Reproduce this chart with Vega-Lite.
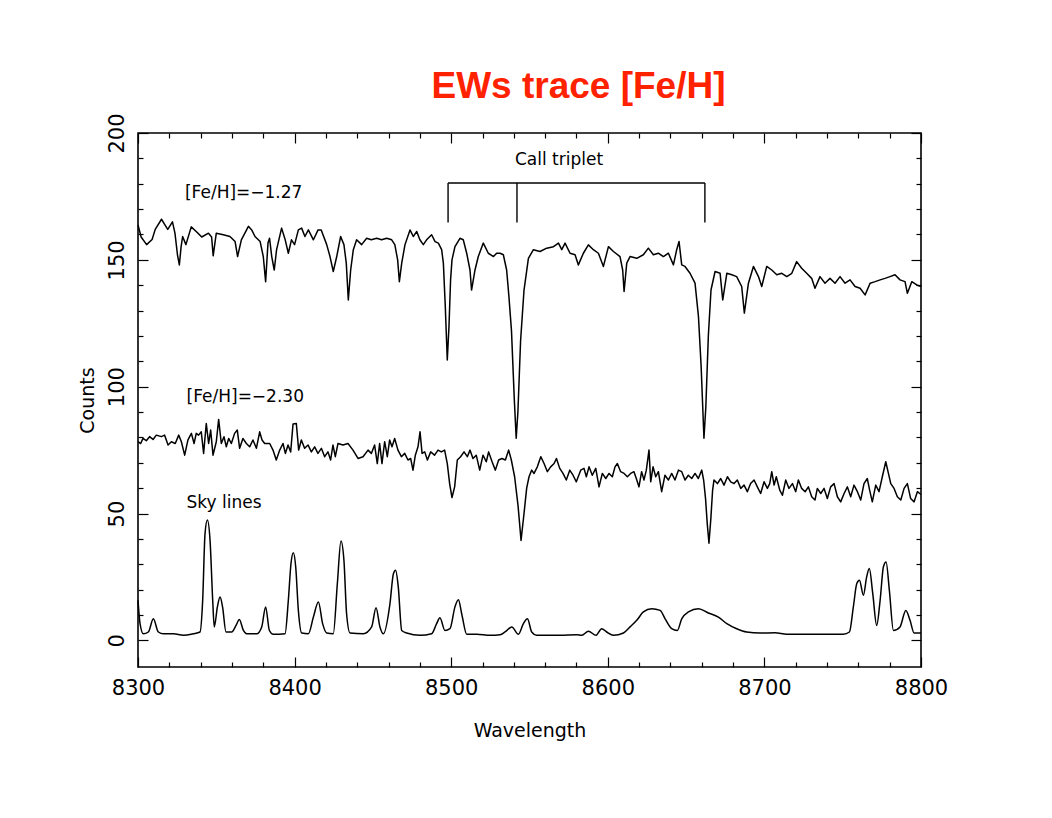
{
  "$schema": "https://vega.github.io/schema/vega-lite/v6.json",
  "width": 783,
  "height": 534,
  "autosize": {"type": "none"},
  "padding": {"left": 138, "top": 133, "right": 131, "bottom": 151},
  "background": "white",
  "title": {
    "text": "EWs trace [Fe/H]",
    "font": "Liberation Sans",
    "fontSize": 37,
    "fontWeight": "bold",
    "color": "#ff2200",
    "anchor": "middle",
    "frame": "group",
    "baseline": "alphabetic",
    "dx": 49,
    "offset": -22
  },
  "config": {
    "view": {"stroke": "black", "strokeWidth": 1.6},
    "axis": {
      "domain": false,
      "grid": false,
      "tickColor": "black",
      "tickWidth": 1.2,
      "labelColor": "black",
      "labelFont": "DejaVu Sans",
      "labelFontSize": 21,
      "labelFlush": false,
      "labelOverlap": false,
      "titleColor": "black",
      "titleFont": "DejaVu Sans",
      "titleFontSize": 19,
      "titleFontWeight": "normal"
    },
    "text": {"font": "DejaVu Sans", "fontSize": 17, "color": "black"}
  },
  "datasets": {
    "spectra": [
      {"s":"A","w":8300,"c":163.8},{"s":"A","w":8302,"c":159},{"s":"A","w":8305.5,"c":156},{"s":"A","w":8309,"c":158},{"s":"A","w":8311,"c":162},{"s":"A","w":8315,"c":166},{"s":"A","w":8317,"c":164},{"s":"A","w":8319,"c":162},{"s":"A","w":8322,"c":165},{"s":"A","w":8323.6,"c":160.5},{"s":"A","w":8325.2,"c":152},{"s":"A","w":8326.4,"c":148},{"s":"A","w":8327.5,"c":155},{"s":"A","w":8328.5,"c":159.2},{"s":"A","w":8330.6,"c":156},{"s":"A","w":8334,"c":163},{"s":"A","w":8337.5,"c":161},{"s":"A","w":8340.7,"c":159},{"s":"A","w":8345,"c":160.5},{"s":"A","w":8347,"c":159},{"s":"A","w":8348,"c":151.6},{"s":"A","w":8350,"c":160.5},{"s":"A","w":8354.5,"c":159.9},{"s":"A","w":8358.7,"c":159.2},{"s":"A","w":8362,"c":157.2},{"s":"A","w":8363.6,"c":151.3},{"s":"A","w":8366,"c":157.9},{"s":"A","w":8370.5,"c":163.2},{"s":"A","w":8372.6,"c":161.8},{"s":"A","w":8374.7,"c":159.2},{"s":"A","w":8378,"c":157.2},{"s":"A","w":8380,"c":151.3},{"s":"A","w":8381.5,"c":141.4},{"s":"A","w":8383,"c":156.6},{"s":"A","w":8384,"c":158.5},{"s":"A","w":8385.4,"c":151.3},{"s":"A","w":8387,"c":146},{"s":"A","w":8388.5,"c":154},{"s":"A","w":8391.7,"c":162.5},{"s":"A","w":8394,"c":157.9},{"s":"A","w":8396,"c":152.6},{"s":"A","w":8398,"c":157.9},{"s":"A","w":8400,"c":156},{"s":"A","w":8402.4,"c":161.8},{"s":"A","w":8404.5,"c":162.5},{"s":"A","w":8406.6,"c":159.2},{"s":"A","w":8408.8,"c":161.8},{"s":"A","w":8412,"c":157.9},{"s":"A","w":8415,"c":161.8},{"s":"A","w":8417,"c":161.8},{"s":"A","w":8420.5,"c":156},{"s":"A","w":8422.6,"c":151.3},{"s":"A","w":8424.7,"c":145.4},{"s":"A","w":8426.9,"c":151.3},{"s":"A","w":8429.4,"c":159.2},{"s":"A","w":8431.5,"c":156},{"s":"A","w":8433,"c":148.7},{"s":"A","w":8434.3,"c":134.2},{"s":"A","w":8435.8,"c":146},{"s":"A","w":8437.5,"c":154},{"s":"A","w":8439.6,"c":157.9},{"s":"A","w":8442.8,"c":156},{"s":"A","w":8446,"c":158.5},{"s":"A","w":8449,"c":157.9},{"s":"A","w":8452.4,"c":158.5},{"s":"A","w":8455.6,"c":157.9},{"s":"A","w":8458.8,"c":158.5},{"s":"A","w":8462,"c":157.9},{"s":"A","w":8464,"c":156},{"s":"A","w":8465.8,"c":150},{"s":"A","w":8466.9,"c":141.4},{"s":"A","w":8468.4,"c":148.7},{"s":"A","w":8470.5,"c":156},{"s":"A","w":8473.7,"c":161.8},{"s":"A","w":8475.8,"c":159.2},{"s":"A","w":8478,"c":161.2},{"s":"A","w":8480,"c":157.9},{"s":"A","w":8482.2,"c":156},{"s":"A","w":8484.3,"c":157.9},{"s":"A","w":8487.5,"c":159.9},{"s":"A","w":8489.7,"c":157.2},{"s":"A","w":8491.8,"c":156.6},{"s":"A","w":8493.9,"c":154},{"s":"A","w":8495,"c":148.7},{"s":"A","w":8496.2,"c":132},{"s":"A","w":8497.5,"c":110.5},{"s":"A","w":8498.6,"c":124},{"s":"A","w":8499.6,"c":142},{"s":"A","w":8500.5,"c":150},{"s":"A","w":8502.4,"c":155.2},{"s":"A","w":8505.6,"c":158.5},{"s":"A","w":8507.7,"c":157.9},{"s":"A","w":8509.9,"c":152.6},{"s":"A","w":8512,"c":146},{"s":"A","w":8513,"c":138.1},{"s":"A","w":8515.2,"c":146},{"s":"A","w":8517.3,"c":151.3},{"s":"A","w":8520.5,"c":156.6},{"s":"A","w":8523.7,"c":152.6},{"s":"A","w":8527,"c":151.3},{"s":"A","w":8529,"c":152.6},{"s":"A","w":8531.2,"c":152.6},{"s":"A","w":8533.3,"c":152},{"s":"A","w":8535.4,"c":146},{"s":"A","w":8536.8,"c":136},{"s":"A","w":8538.5,"c":122},{"s":"A","w":8540.3,"c":95},{"s":"A","w":8541.5,"c":79.7},{"s":"A","w":8542.6,"c":90},{"s":"A","w":8544.3,"c":118},{"s":"A","w":8546.5,"c":138.1},{"s":"A","w":8549.3,"c":150.6},{"s":"A","w":8552.5,"c":154},{"s":"A","w":8556.7,"c":153.3},{"s":"A","w":8561,"c":154.6},{"s":"A","w":8565.3,"c":155.2},{"s":"A","w":8568.5,"c":156.6},{"s":"A","w":8570.6,"c":154},{"s":"A","w":8572.7,"c":156.6},{"s":"A","w":8575.9,"c":152.6},{"s":"A","w":8579.1,"c":152},{"s":"A","w":8581.2,"c":148},{"s":"A","w":8584.4,"c":152.6},{"s":"A","w":8587.6,"c":155.9},{"s":"A","w":8590.8,"c":154},{"s":"A","w":8594,"c":152.6},{"s":"A","w":8597.2,"c":147.4},{"s":"A","w":8600.4,"c":155.2},{"s":"A","w":8603.6,"c":153.3},{"s":"A","w":8607.8,"c":151.3},{"s":"A","w":8609.5,"c":146},{"s":"A","w":8610.4,"c":137.5},{"s":"A","w":8612.1,"c":148.7},{"s":"A","w":8614.2,"c":151.3},{"s":"A","w":8618.5,"c":150.6},{"s":"A","w":8622.7,"c":152},{"s":"A","w":8625.9,"c":154.6},{"s":"A","w":8629.1,"c":152},{"s":"A","w":8632.3,"c":152.6},{"s":"A","w":8635.5,"c":151.3},{"s":"A","w":8638.7,"c":152.6},{"s":"A","w":8641.9,"c":148},{"s":"A","w":8644,"c":154},{"s":"A","w":8645.5,"c":157.2},{"s":"A","w":8647.2,"c":148},{"s":"A","w":8649.3,"c":147.4},{"s":"A","w":8652.5,"c":144.7},{"s":"A","w":8655.7,"c":140.8},{"s":"A","w":8657.9,"c":127.6},{"s":"A","w":8659.6,"c":108},{"s":"A","w":8661.4,"c":79.7},{"s":"A","w":8662.6,"c":92},{"s":"A","w":8664.2,"c":120},{"s":"A","w":8665.9,"c":138.1},{"s":"A","w":8668.5,"c":145.4},{"s":"A","w":8671.7,"c":144.7},{"s":"A","w":8673.4,"c":134.2},{"s":"A","w":8676,"c":144.7},{"s":"A","w":8679.2,"c":144.1},{"s":"A","w":8682.3,"c":143.4},{"s":"A","w":8685.5,"c":139.5},{"s":"A","w":8687.2,"c":129},{"s":"A","w":8689.8,"c":140.8},{"s":"A","w":8693,"c":147.4},{"s":"A","w":8696.2,"c":143.4},{"s":"A","w":8698.3,"c":139.5},{"s":"A","w":8701.5,"c":147.4},{"s":"A","w":8704.7,"c":146},{"s":"A","w":8707.9,"c":144.1},{"s":"A","w":8711.1,"c":144.7},{"s":"A","w":8714.3,"c":143.4},{"s":"A","w":8717.5,"c":144.7},{"s":"A","w":8720.6,"c":149.3},{"s":"A","w":8723.8,"c":146.7},{"s":"A","w":8727,"c":144.7},{"s":"A","w":8730.2,"c":142.7},{"s":"A","w":8732.3,"c":138.8},{"s":"A","w":8735.5,"c":143.4},{"s":"A","w":8738.7,"c":140.8},{"s":"A","w":8741.9,"c":142.7},{"s":"A","w":8745.1,"c":140.8},{"s":"A","w":8748.3,"c":143.4},{"s":"A","w":8751.5,"c":140.8},{"s":"A","w":8754.7,"c":142.1},{"s":"A","w":8757.9,"c":139.5},{"s":"A","w":8761.1,"c":138.8},{"s":"A","w":8764.3,"c":136.2},{"s":"A","w":8767.5,"c":140.8},{"s":"A","w":8770.7,"c":141.4},{"s":"A","w":8773.9,"c":142.1},{"s":"A","w":8777,"c":142.7},{"s":"A","w":8780.2,"c":143.4},{"s":"A","w":8783.4,"c":144.1},{"s":"A","w":8786.6,"c":142.1},{"s":"A","w":8789.8,"c":141.4},{"s":"A","w":8791.3,"c":136.8},{"s":"A","w":8794.1,"c":141.4},{"s":"A","w":8797.3,"c":140.1},{"s":"A","w":8800,"c":139.5},

      {"s":"B","w":8300,"c":78.3},{"s":"B","w":8301.7,"c":77.6},{"s":"B","w":8303.2,"c":79.6},{"s":"B","w":8305.3,"c":78.7},{"s":"B","w":8307.4,"c":80.3},{"s":"B","w":8309.6,"c":79.2},{"s":"B","w":8311.7,"c":80.9},{"s":"B","w":8314.9,"c":80.3},{"s":"B","w":8317,"c":80.9},{"s":"B","w":8319.2,"c":77},{"s":"B","w":8321.3,"c":78.3},{"s":"B","w":8323.8,"c":77.6},{"s":"B","w":8326,"c":80.9},{"s":"B","w":8327.7,"c":78.3},{"s":"B","w":8329.8,"c":73},{"s":"B","w":8331.9,"c":79},{"s":"B","w":8334.1,"c":81.6},{"s":"B","w":8335.8,"c":77.6},{"s":"B","w":8337.2,"c":81.6},{"s":"B","w":8338.7,"c":80.9},{"s":"B","w":8340.4,"c":82.2},{"s":"B","w":8341.9,"c":73.7},{"s":"B","w":8343.6,"c":85.5},{"s":"B","w":8345.1,"c":77.6},{"s":"B","w":8346.4,"c":82.9},{"s":"B","w":8347.9,"c":73},{"s":"B","w":8350,"c":78.3},{"s":"B","w":8351.5,"c":87.1},{"s":"B","w":8353.2,"c":77.6},{"s":"B","w":8354.9,"c":80.3},{"s":"B","w":8356.4,"c":76.3},{"s":"B","w":8357.9,"c":79.6},{"s":"B","w":8359.6,"c":77.6},{"s":"B","w":8361.7,"c":81.6},{"s":"B","w":8363.4,"c":82.9},{"s":"B","w":8364.9,"c":75.7},{"s":"B","w":8367,"c":79.6},{"s":"B","w":8369.2,"c":77.6},{"s":"B","w":8371.3,"c":76.3},{"s":"B","w":8373.4,"c":79},{"s":"B","w":8375.6,"c":75.7},{"s":"B","w":8377.7,"c":82.2},{"s":"B","w":8379.2,"c":79},{"s":"B","w":8380.9,"c":77.6},{"s":"B","w":8384.1,"c":77.6},{"s":"B","w":8386.2,"c":75},{"s":"B","w":8388.3,"c":71.1},{"s":"B","w":8390.5,"c":75},{"s":"B","w":8392.6,"c":77.6},{"s":"B","w":8394.1,"c":73.7},{"s":"B","w":8395.8,"c":77},{"s":"B","w":8397.5,"c":74.3},{"s":"B","w":8399,"c":85.3},{"s":"B","w":8401.1,"c":85.5},{"s":"B","w":8402.6,"c":75},{"s":"B","w":8404.3,"c":79},{"s":"B","w":8406.4,"c":75.7},{"s":"B","w":8408.6,"c":77},{"s":"B","w":8410.7,"c":74.3},{"s":"B","w":8412.8,"c":76.3},{"s":"B","w":8414.9,"c":73.7},{"s":"B","w":8417.1,"c":75.7},{"s":"B","w":8419.2,"c":72.4},{"s":"B","w":8421.3,"c":74.3},{"s":"B","w":8423,"c":71.1},{"s":"B","w":8424.5,"c":77},{"s":"B","w":8426,"c":72.4},{"s":"B","w":8427.7,"c":77.6},{"s":"B","w":8430.9,"c":77},{"s":"B","w":8434.1,"c":77.6},{"s":"B","w":8437.3,"c":75},{"s":"B","w":8440.5,"c":71.7},{"s":"B","w":8443.7,"c":72.4},{"s":"B","w":8446.9,"c":75},{"s":"B","w":8449,"c":73.7},{"s":"B","w":8451.1,"c":77},{"s":"B","w":8452.8,"c":69.7},{"s":"B","w":8454.3,"c":77.6},{"s":"B","w":8455.8,"c":69.7},{"s":"B","w":8457.5,"c":78.3},{"s":"B","w":8459.2,"c":72.4},{"s":"B","w":8460.7,"c":79},{"s":"B","w":8462.2,"c":76.3},{"s":"B","w":8463.9,"c":79.6},{"s":"B","w":8466,"c":75},{"s":"B","w":8468.2,"c":72.4},{"s":"B","w":8470.3,"c":73.7},{"s":"B","w":8472.4,"c":71.1},{"s":"B","w":8474.1,"c":71.7},{"s":"B","w":8475.6,"c":67.1},{"s":"B","w":8477.1,"c":73},{"s":"B","w":8478.8,"c":76.3},{"s":"B","w":8480.1,"c":82.2},{"s":"B","w":8481.4,"c":73.7},{"s":"B","w":8483.1,"c":74.3},{"s":"B","w":8484.8,"c":71.1},{"s":"B","w":8486.9,"c":74.3},{"s":"B","w":8489.4,"c":73},{"s":"B","w":8491.6,"c":75},{"s":"B","w":8493.7,"c":74.3},{"s":"B","w":8495.8,"c":75},{"s":"B","w":8497.5,"c":69.7},{"s":"B","w":8499,"c":61.8},{"s":"B","w":8500.5,"c":56.3},{"s":"B","w":8502.2,"c":60.5},{"s":"B","w":8503.9,"c":71.1},{"s":"B","w":8506,"c":72.4},{"s":"B","w":8508.2,"c":74.3},{"s":"B","w":8510.3,"c":72.4},{"s":"B","w":8512,"c":75},{"s":"B","w":8513.9,"c":71.7},{"s":"B","w":8516,"c":73},{"s":"B","w":8518.2,"c":67.1},{"s":"B","w":8520.3,"c":73},{"s":"B","w":8522.4,"c":70.4},{"s":"B","w":8523.9,"c":74.3},{"s":"B","w":8526.1,"c":70.4},{"s":"B","w":8528.2,"c":67.1},{"s":"B","w":8530.3,"c":71.1},{"s":"B","w":8532.4,"c":71.7},{"s":"B","w":8534.6,"c":71.1},{"s":"B","w":8536.7,"c":75},{"s":"B","w":8538.4,"c":71.1},{"s":"B","w":8540.5,"c":64.5},{"s":"B","w":8542.7,"c":53},{"s":"B","w":8544.6,"c":39.4},{"s":"B","w":8546.5,"c":50},{"s":"B","w":8548.2,"c":60},{"s":"B","w":8549.7,"c":64.5},{"s":"B","w":8551.4,"c":67.1},{"s":"B","w":8552.9,"c":65.8},{"s":"B","w":8555,"c":68.4},{"s":"B","w":8557.2,"c":72.4},{"s":"B","w":8559.3,"c":69.7},{"s":"B","w":8561.4,"c":66.5},{"s":"B","w":8563.5,"c":68.4},{"s":"B","w":8565.7,"c":69.7},{"s":"B","w":8567.2,"c":71.7},{"s":"B","w":8569.3,"c":67.8},{"s":"B","w":8571.4,"c":65.8},{"s":"B","w":8573.5,"c":63.2},{"s":"B","w":8575.7,"c":67.1},{"s":"B","w":8577.8,"c":65.1},{"s":"B","w":8579.9,"c":62.5},{"s":"B","w":8582.7,"c":67.1},{"s":"B","w":8584.8,"c":67.8},{"s":"B","w":8586.3,"c":64.5},{"s":"B","w":8588,"c":68.4},{"s":"B","w":8590.1,"c":65.1},{"s":"B","w":8592.3,"c":67.8},{"s":"B","w":8594.4,"c":60.5},{"s":"B","w":8596.5,"c":65.8},{"s":"B","w":8598.7,"c":63.8},{"s":"B","w":8600.8,"c":65.8},{"s":"B","w":8602.9,"c":64.5},{"s":"B","w":8604.6,"c":68.4},{"s":"B","w":8606.1,"c":69.7},{"s":"B","w":8608.2,"c":66.5},{"s":"B","w":8610.4,"c":65.8},{"s":"B","w":8612.5,"c":64.5},{"s":"B","w":8614.6,"c":65.8},{"s":"B","w":8616.7,"c":66.5},{"s":"B","w":8618.2,"c":63.8},{"s":"B","w":8619.9,"c":60.5},{"s":"B","w":8621.6,"c":66.5},{"s":"B","w":8623.1,"c":63.2},{"s":"B","w":8624.6,"c":67.1},{"s":"B","w":8626.3,"c":75},{"s":"B","w":8627.4,"c":62.5},{"s":"B","w":8628.9,"c":68.4},{"s":"B","w":8630.6,"c":64.5},{"s":"B","w":8632.3,"c":66.5},{"s":"B","w":8634.4,"c":58.6},{"s":"B","w":8636.5,"c":65.1},{"s":"B","w":8638.7,"c":63.2},{"s":"B","w":8640.8,"c":65.8},{"s":"B","w":8642.9,"c":63.2},{"s":"B","w":8645.1,"c":67.1},{"s":"B","w":8647.2,"c":66.5},{"s":"B","w":8649.3,"c":63.2},{"s":"B","w":8651.4,"c":65.1},{"s":"B","w":8653.6,"c":63.8},{"s":"B","w":8655.7,"c":65.8},{"s":"B","w":8657.8,"c":63.8},{"s":"B","w":8660,"c":67.1},{"s":"B","w":8661.2,"c":63.2},{"s":"B","w":8662.4,"c":56},{"s":"B","w":8663.5,"c":46},{"s":"B","w":8664.6,"c":38.3},{"s":"B","w":8665.8,"c":48},{"s":"B","w":8666.9,"c":59},{"s":"B","w":8667.8,"c":63.2},{"s":"B","w":8670,"c":61.8},{"s":"B","w":8672.1,"c":63.8},{"s":"B","w":8674.2,"c":61.2},{"s":"B","w":8676.4,"c":64.5},{"s":"B","w":8678.5,"c":62.5},{"s":"B","w":8680.6,"c":61.8},{"s":"B","w":8682.7,"c":63.2},{"s":"B","w":8684.9,"c":59.9},{"s":"B","w":8687,"c":61.2},{"s":"B","w":8689.1,"c":58.6},{"s":"B","w":8691.2,"c":61.8},{"s":"B","w":8693.4,"c":63.2},{"s":"B","w":8695.5,"c":60.5},{"s":"B","w":8697.6,"c":57.9},{"s":"B","w":8699.8,"c":62.5},{"s":"B","w":8701.9,"c":59.9},{"s":"B","w":8703.4,"c":61.8},{"s":"B","w":8704.7,"c":66.5},{"s":"B","w":8706.2,"c":61.2},{"s":"B","w":8707.6,"c":64.5},{"s":"B","w":8709.8,"c":59.2},{"s":"B","w":8711.5,"c":57.2},{"s":"B","w":8713.6,"c":63.2},{"s":"B","w":8715.7,"c":59.9},{"s":"B","w":8717.9,"c":61.8},{"s":"B","w":8720,"c":58.6},{"s":"B","w":8721.7,"c":63.2},{"s":"B","w":8723.8,"c":59.9},{"s":"B","w":8726,"c":58.6},{"s":"B","w":8728.1,"c":60.5},{"s":"B","w":8730.2,"c":56.6},{"s":"B","w":8732.3,"c":55.3},{"s":"B","w":8733.8,"c":59.9},{"s":"B","w":8736,"c":57.9},{"s":"B","w":8738.1,"c":59.9},{"s":"B","w":8740.2,"c":55.9},{"s":"B","w":8742.3,"c":60.5},{"s":"B","w":8744.5,"c":61.8},{"s":"B","w":8746.6,"c":56.6},{"s":"B","w":8748.7,"c":54.6},{"s":"B","w":8750.9,"c":57.9},{"s":"B","w":8753,"c":60.5},{"s":"B","w":8755.1,"c":56.6},{"s":"B","w":8757.2,"c":61.2},{"s":"B","w":8759.4,"c":58.6},{"s":"B","w":8761.5,"c":55.3},{"s":"B","w":8763.6,"c":61.8},{"s":"B","w":8765.7,"c":63.8},{"s":"B","w":8767.2,"c":59.2},{"s":"B","w":8768.9,"c":54.6},{"s":"B","w":8771.1,"c":61.2},{"s":"B","w":8773.2,"c":58.6},{"s":"B","w":8775.3,"c":64.5},{"s":"B","w":8777.5,"c":70.4},{"s":"B","w":8779.2,"c":65.8},{"s":"B","w":8780.7,"c":61.8},{"s":"B","w":8782.8,"c":59.9},{"s":"B","w":8784.9,"c":56.6},{"s":"B","w":8787.1,"c":55.3},{"s":"B","w":8789.2,"c":59.9},{"s":"B","w":8791.3,"c":61.8},{"s":"B","w":8793.4,"c":55.9},{"s":"B","w":8795.6,"c":54.6},{"s":"B","w":8797.7,"c":58.6},{"s":"B","w":8800,"c":57.5}
    ],
    "sky": [
      {"w":8300,"c":15.8},{"w":8301.3,"c":6.6},{"w":8303.4,"c":2.6},{"w":8306.6,"c":3.3},{"w":8309.8,"c":8.5},{"w":8313,"c":3.3},{"w":8316.2,"c":2.6},{"w":8322.6,"c":2.6},{"w":8329,"c":2},{"w":8335.3,"c":2.6},{"w":8339.6,"c":3.3},{"w":8341.3,"c":15.8},{"w":8342.8,"c":42.1},{"w":8344.3,"c":47.4},{"w":8346,"c":39.5},{"w":8347.7,"c":15.8},{"w":8348.7,"c":5.3},{"w":8350.7,"c":13.2},{"w":8352.4,"c":17.1},{"w":8354,"c":13.2},{"w":8356.2,"c":3.3},{"w":8359.8,"c":3.3},{"w":8362.6,"c":5.9},{"w":8364.7,"c":8.2},{"w":8367.3,"c":3.9},{"w":8369.4,"c":2.6},{"w":8375.8,"c":2.6},{"w":8379,"c":5.3},{"w":8381.5,"c":13.2},{"w":8383.9,"c":3.9},{"w":8386.4,"c":2.4},{"w":8393.9,"c":2.6},{"w":8396,"c":15.8},{"w":8397.7,"c":30.3},{"w":8399.2,"c":34.5},{"w":8400.7,"c":29},{"w":8402.4,"c":11.8},{"w":8404.5,"c":2.9},{"w":8408.8,"c":2.6},{"w":8412,"c":9.2},{"w":8415.2,"c":15.1},{"w":8417.9,"c":6.6},{"w":8420.5,"c":2.9},{"w":8424.7,"c":2.6},{"w":8427.3,"c":22.4},{"w":8429.6,"c":39.2},{"w":8431.5,"c":31.6},{"w":8433.2,"c":10.5},{"w":8435.4,"c":2.9},{"w":8443.9,"c":2.6},{"w":8449.2,"c":5.3},{"w":8452,"c":12.9},{"w":8454.5,"c":5.3},{"w":8456.7,"c":2.6},{"w":8460.9,"c":14.5},{"w":8463.1,"c":26.3},{"w":8464.5,"c":27.6},{"w":8466.2,"c":21.1},{"w":8468.4,"c":3.9},{"w":8471.6,"c":2.9},{"w":8480.1,"c":2},{"w":8487.5,"c":2.6},{"w":8490.7,"c":6.6},{"w":8492.8,"c":8.9},{"w":8496,"c":3.9},{"w":8499.2,"c":4.6},{"w":8502.4,"c":13.2},{"w":8504.6,"c":16},{"w":8506.7,"c":10.5},{"w":8509.9,"c":2.4},{"w":8516.3,"c":2.4},{"w":8524.8,"c":2},{"w":8531.2,"c":2.2},{"w":8534.4,"c":3.3},{"w":8538.7,"c":5.3},{"w":8542.9,"c":2.4},{"w":8546.1,"c":6.6},{"w":8548.7,"c":8.5},{"w":8551.4,"c":3.3},{"w":8554.6,"c":2},{"w":8569.5,"c":2},{"w":8580.2,"c":2.2},{"w":8583.4,"c":2},{"w":8587.6,"c":3.6},{"w":8592.5,"c":2},{"w":8596.1,"c":4.6},{"w":8599.3,"c":3.3},{"w":8603.6,"c":2},{"w":8610,"c":2.9},{"w":8614.2,"c":5.3},{"w":8618.5,"c":7.9},{"w":8622.7,"c":11.2},{"w":8628.1,"c":12.5},{"w":8633.4,"c":11.8},{"w":8636.6,"c":8.5},{"w":8640.8,"c":4.6},{"w":8644.4,"c":3.9},{"w":8647.2,"c":8.5},{"w":8651.5,"c":11.2},{"w":8657.9,"c":12.5},{"w":8664.2,"c":10.8},{"w":8670.6,"c":9.2},{"w":8676,"c":6.6},{"w":8682.3,"c":4.6},{"w":8688.7,"c":3.3},{"w":8697.2,"c":2.9},{"w":8706.8,"c":3},{"w":8714.3,"c":2.4},{"w":8727,"c":2.4},{"w":8739.8,"c":2.4},{"w":8750.4,"c":2.4},{"w":8754.3,"c":3.3},{"w":8756.8,"c":13.2},{"w":8759,"c":22.4},{"w":8760.7,"c":23.7},{"w":8763.2,"c":17.8},{"w":8765.3,"c":25},{"w":8767,"c":28.3},{"w":8769.2,"c":18.4},{"w":8771.7,"c":5.9},{"w":8773.9,"c":15.8},{"w":8776,"c":29},{"w":8777.7,"c":30.9},{"w":8779.8,"c":19.7},{"w":8782.4,"c":3.9},{"w":8786.6,"c":5.3},{"w":8790.3,"c":11.8},{"w":8793,"c":7.9},{"w":8795.6,"c":2.9},{"w":8800,"c":2.9}
    ],
    "bracket": [
      {"x1": 8498, "x2": 8662, "y1": 180.3, "y2": 180.3},
      {"x1": 8498, "x2": 8498, "y1": 164.7, "y2": 180.3},
      {"x1": 8542, "x2": 8542, "y1": 164.7, "y2": 180.3},
      {"x1": 8662, "x2": 8662, "y1": 164.7, "y2": 180.3}
    ],
    "labels": [
      {"w": 8330, "c": 174.4, "t": "[Fe/H]=−1.27"},
      {"w": 8331, "c": 94.1, "t": "[Fe/H]=−2.30"},
      {"w": 8331, "c": 52.1, "t": "Sky lines"}
    ],
    "triplet": [
      {"w": 8540.7, "c": 187.5, "t": "Call triplet"}
    ]
  },
  "resolve": {"axis": {"x": "independent", "y": "independent"}},
  "layer": [
    {
      "data": {"name": "spectra"},
      "mark": {"type": "line", "color": "black", "strokeWidth": 1.5, "strokeJoin": "round"},
      "encoding": {
        "x": {
          "field": "w", "type": "quantitative",
          "scale": {"domain": [8300, 8800], "nice": false, "zero": false},
          "axis": {
            "orient": "bottom",
            "values": [8300, 8400, 8500, 8600, 8700, 8800],
            "format": "d",
            "tickSize": -10,
            "labelPadding": 20,
            "title": "Wavelength",
            "titlePadding": 23
          }
        },
        "y": {
          "field": "c", "type": "quantitative",
          "scale": {"domain": [-10.5, 200], "nice": false, "zero": false},
          "axis": {
            "orient": "left",
            "values": [0, 50, 100, 150, 200],
            "format": "d",
            "tickSize": -10,
            "labelAngle": 270,
            "labelAlign": "center",
            "labelBaseline": "bottom",
            "labelPadding": 21,
            "title": "Counts",
            "titlePadding": 9
          }
        },
        "detail": {"field": "s", "type": "nominal"}
      }
    },
    {
      "data": {"name": "sky"},
      "mark": {"type": "line", "color": "black", "strokeWidth": 1.5, "strokeJoin": "round", "interpolate": "monotone"},
      "encoding": {
        "x": {"field": "w", "type": "quantitative", "scale": {"domain": [8300, 8800], "nice": false, "zero": false}, "axis": null},
        "y": {"field": "c", "type": "quantitative", "scale": {"domain": [-10.5, 200], "nice": false, "zero": false}, "axis": null}
      }
    },
    {
      "data": {"name": "bracket"},
      "mark": {"type": "rule", "color": "black", "strokeWidth": 1.4},
      "encoding": {
        "x": {
          "field": "x1", "type": "quantitative",
          "scale": {"domain": [8300, 8800], "nice": false, "zero": false},
          "axis": {
            "orient": "bottom",
            "values": [8320, 8340, 8360, 8380, 8420, 8440, 8460, 8480, 8520, 8540, 8560, 8580, 8620, 8640, 8660, 8680, 8720, 8740, 8760, 8780],
            "tickSize": -5, "labels": false, "title": null
          }
        },
        "x2": {"field": "x2"},
        "y": {
          "field": "y1", "type": "quantitative",
          "scale": {"domain": [-10.5, 200], "nice": false, "zero": false},
          "axis": {
            "orient": "left",
            "values": [10, 20, 30, 40, 60, 70, 80, 90, 110, 120, 130, 140, 160, 170, 180, 190],
            "tickSize": -5, "labels": false, "title": null
          }
        },
        "y2": {"field": "y2"}
      }
    },
    {
      "data": {"name": "labels"},
      "mark": {"type": "text", "align": "left", "baseline": "alphabetic"},
      "encoding": {
        "x": {
          "field": "w", "type": "quantitative",
          "scale": {"domain": [8300, 8800], "nice": false, "zero": false},
          "axis": {
            "orient": "top",
            "values": [8300, 8400, 8500, 8600, 8700, 8800],
            "tickSize": -10, "labels": false, "title": null
          }
        },
        "y": {
          "field": "c", "type": "quantitative",
          "scale": {"domain": [-10.5, 200], "nice": false, "zero": false},
          "axis": {
            "orient": "right",
            "values": [0, 50, 100, 150, 200],
            "tickSize": -10, "labels": false, "title": null
          }
        },
        "text": {"field": "t"}
      }
    },
    {
      "data": {"name": "triplet"},
      "mark": {"type": "text", "align": "left", "baseline": "alphabetic"},
      "encoding": {
        "x": {
          "field": "w", "type": "quantitative",
          "scale": {"domain": [8300, 8800], "nice": false, "zero": false},
          "axis": {
            "orient": "top",
            "values": [8320, 8340, 8360, 8380, 8420, 8440, 8460, 8480, 8520, 8540, 8560, 8580, 8620, 8640, 8660, 8680, 8720, 8740, 8760, 8780],
            "tickSize": -5, "labels": false, "title": null
          }
        },
        "y": {
          "field": "c", "type": "quantitative",
          "scale": {"domain": [-10.5, 200], "nice": false, "zero": false},
          "axis": {
            "orient": "right",
            "values": [10, 20, 30, 40, 60, 70, 80, 90, 110, 120, 130, 140, 160, 170, 180, 190],
            "tickSize": -5, "labels": false, "title": null
          }
        },
        "text": {"field": "t"}
      }
    }
  ]
}
